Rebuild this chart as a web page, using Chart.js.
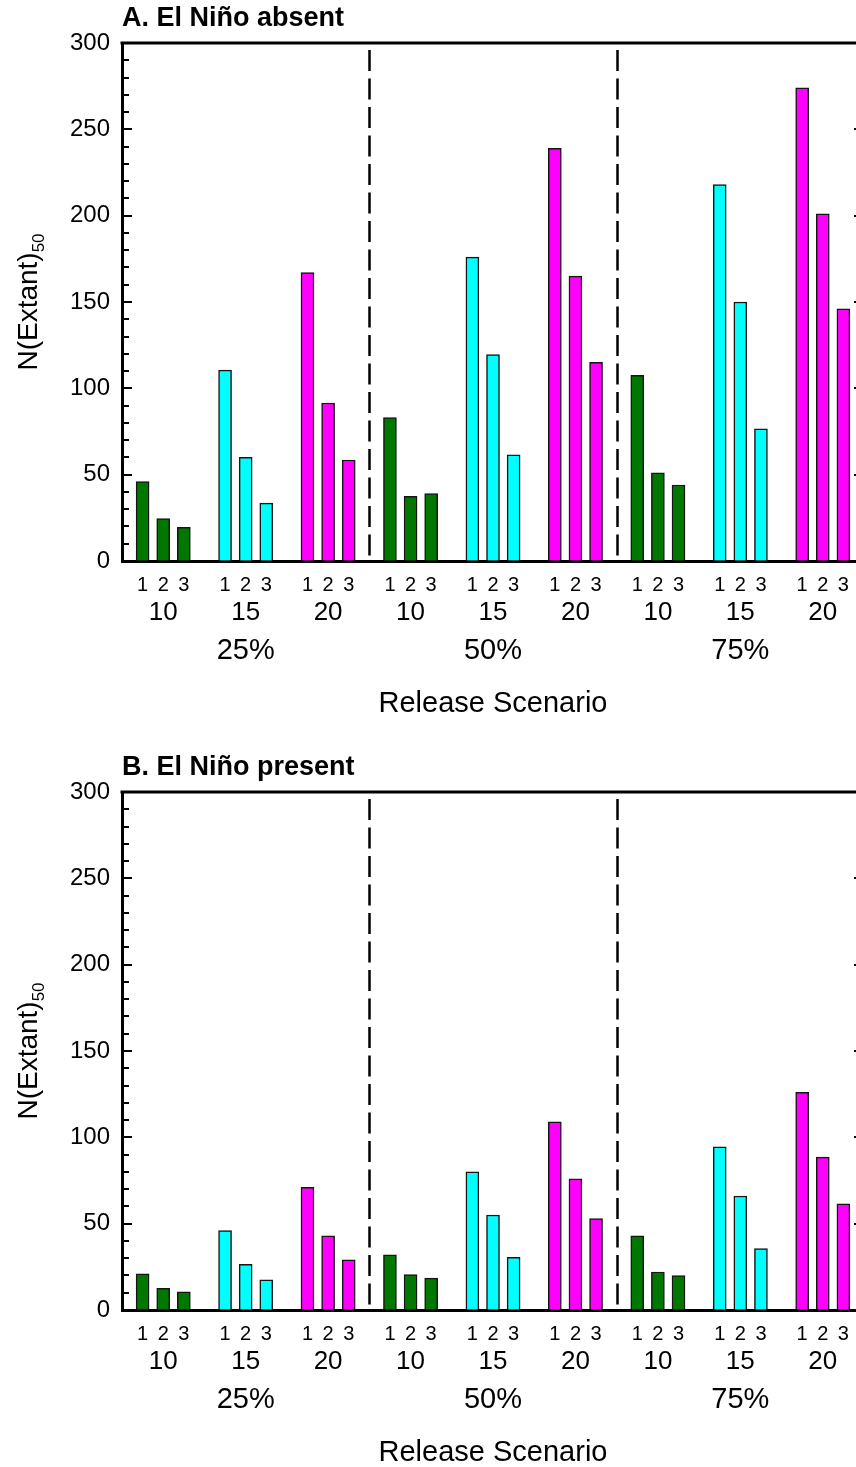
<!DOCTYPE html>
<html>
<head>
<meta charset="utf-8">
<script src="https://cdn.jsdelivr.net/npm/chart.js@4.4.1/dist/chart.umd.min.js"></script>
<style>
html, body { margin: 0; padding: 0; background: #fff; overflow: hidden; }
#wrap { position: relative; width: 856px; height: 1467px; overflow: hidden; background: #fff; }
.panel { position: absolute; left: 0; width: 880px; height: 749px; }
canvas { display: block; }
</style>
</head>
<body>
<div id="wrap">
  <div class="panel" style="top:0"><canvas id="chartA" width="880" height="749"></canvas></div>
  <div class="panel" style="top:749px"><canvas id="chartB" width="880" height="749"></canvas></div>
</div>
<script>
// ---------------- data ----------------
const releases = ['25%', '50%', '75%'];          // release proportion
const groupSizes = ['10', '15', '20'];           // release group size
const scenarios = ['1', '2', '3'];               // scenario within group
const yMajorTicks = [0, 50, 100, 150, 200, 250, 300];
const yMinorStep = 10;

// values ordered: 25%(1,2,3), 50%(1,2,3), 75%(1,2,3)
const absent10  = [46, 24.5, 19.5, 83, 37.5, 39, 107.5, 51, 44];
const absent15  = [110.5, 60, 33.5, 176, 119.5, 61.5, 218, 150, 76.5];
const absent20  = [167, 91.5, 58.5, 239, 165, 115, 274, 201, 146];

const present10 = [21, 12.5, 10.5, 32, 20.5, 18.5, 43, 22, 20];
const present15 = [46, 26.5, 17.5, 80, 55, 30.5, 94.5, 66, 35.5];
const present20 = [71, 43, 29, 109, 76, 53, 126, 88.5, 61.5];

const sizeColors = ['#007800', '#00ffff', '#ff00ff'];
const FONT = "'Liberation Sans', Arial, Helvetica, sans-serif";

// ---------------- layout of slots on a linear axis ----------------
const perGroup = scenarios.length + 1;                 // 3 bars + 1 gap
const perRelease = groupSizes.length * perGroup;       // 12 slots
const xMax = releases.length * perRelease;             // 36
const slot = (r, s, k) => 1 + r * perRelease + s * perGroup + k;

const barTicks = [], groupTicks = [], releaseTicks = [];
releases.forEach((rl, r) => {
  groupSizes.forEach((gs, s) => {
    scenarios.forEach((sc, k) => barTicks.push({ value: slot(r, s, k), label: sc }));
    groupTicks.push({ value: slot(r, s, 1), label: gs });
  });
  releaseTicks.push({ value: slot(r, 1, 1), label: rl });
});
const dividers = releases.slice(1).map((_, i) => (i + 1) * perRelease);
const lookup = ticks => { const m = {}; ticks.forEach(t => m[t.value] = t.label); return m; };
const barLabel = lookup(barTicks), groupLabel = lookup(groupTicks), releaseLabel = lookup(releaseTicks);

// ---------------- plugin: frame, inward ticks, dashed dividers, y title ----------------
const framePlugin = {
  id: 'frame',
  afterDraw(chart) {
    const { ctx, chartArea: { left, right, top, bottom }, scales: { x, y } } = chart;
    ctx.save();
    ctx.strokeStyle = '#000';
    ctx.lineWidth = 3;
    ctx.beginPath();
    ctx.moveTo(left - 1.5, top); ctx.lineTo(right + 1.5, top);
    ctx.moveTo(right, top); ctx.lineTo(right, bottom);
    ctx.stroke();

    ctx.lineWidth = 2;
    ctx.beginPath();
    y.ticks.forEach(t => {
      if (t.value <= y.min || t.value >= y.max) return;
      const py = Math.round(y.getPixelForValue(t.value));
      const len = yMajorTicks.includes(t.value) ? 10 : 7;
      ctx.moveTo(left, py); ctx.lineTo(left + len, py);
      ctx.moveTo(right, py); ctx.lineTo(right - len, py);
    });
    ctx.stroke();

    ctx.lineWidth = 2.5;
    ctx.setLineDash([21, 7.5]);
    ctx.beginPath();
    dividers.forEach(v => {
      const px = Math.round(x.getPixelForValue(v)) + 0.5;
      ctx.moveTo(px, top + 7); ctx.lineTo(px, bottom);
    });
    ctx.stroke();
    ctx.setLineDash([]);

    // y-axis title with subscript
    const main = 'N(Extant)', sub = '50';
    ctx.fillStyle = '#000';
    ctx.translate(37, (top + bottom) / 2);
    ctx.rotate(-Math.PI / 2);
    ctx.textAlign = 'left';
    ctx.textBaseline = 'alphabetic';
    ctx.font = `28px ${FONT}`;
    const w1 = ctx.measureText(main).width;
    ctx.font = `17px ${FONT}`;
    const w2 = ctx.measureText(sub).width;
    const x0 = -(w1 + w2) / 2;
    ctx.font = `28px ${FONT}`;
    ctx.fillText(main, x0, 0);
    ctx.font = `17px ${FONT}`;
    ctx.fillText(sub, x0 + w1, 7);
    ctx.restore();
  }
};

function makeDatasets(v10, v15, v20) {
  return [v10, v15, v20].map((vals, s) => ({
    label: groupSizes[s],
    xAxisID: 'x',
    yAxisID: 'y',
    backgroundColor: sizeColors[s],
    borderColor: '#151515',
    borderWidth: 1.5,
    borderSkipped: 'start',
    grouped: false,
    barThickness: 13,
    data: vals.map((v, i) => ({ x: slot(Math.floor(i / scenarios.length), s, i % scenarios.length), y: v }))
  }));
}

function setTicks(list) {
  return scale => { scale.ticks = list.map(t => ({ value: t.value })); };
}

function makeChart(id, title, v10, v15, v20) {
  return new Chart(document.getElementById(id), {
    type: 'bar',
    data: { datasets: makeDatasets(v10, v15, v20) },
    plugins: [framePlugin],
    options: {
      responsive: false,
      animation: false,
      devicePixelRatio: 1,
      layout: { padding: { left: 0, right: 16, top: 0, bottom: 0 } },
      plugins: {
        legend: { display: false },
        tooltip: { enabled: false },
        title: {
          display: true, text: title, align: 'start', fullSize: false, color: '#000',
          font: { family: FONT, size: 27, weight: 'bold', lineHeight: 1.2 },
          padding: { top: 2, bottom: 8.6 }
        }
      },
      scales: {
        y: {
          type: 'linear', position: 'left', min: 0, max: 300,
          afterFit: s => { s.width = 122; },
          ticks: {
            stepSize: yMinorStep, maxTicksLimit: 31, autoSkip: false, padding: 12, color: '#000',
            font: { family: FONT, size: 24 },
            callback: v => yMajorTicks.includes(v) ? String(v) : ''
          },
          grid: { display: true, drawOnChartArea: false, drawTicks: false },
          border: { display: true, color: '#000', width: 3 }
        },
        x: {
          type: 'linear', axis: 'x', position: 'bottom', weight: 0, min: 0, max: xMax, offset: false,
          afterBuildTicks: setTicks(barTicks),
          afterFit: s => { s.height = 33; },
          ticks: {
            autoSkip: false, maxRotation: 0, minRotation: 0, padding: 12, color: '#000',
            font: { family: FONT, size: 20 },
            callback: v => barLabel[v] ?? ''
          },
          grid: { display: true, drawOnChartArea: false, drawTicks: false },
          border: { display: true, color: '#000', width: 3 }
        },
        x2: {
          type: 'linear', axis: 'x', position: 'bottom', weight: 1, min: 0, max: xMax, offset: false,
          afterBuildTicks: setTicks(groupTicks),
          afterFit: s => { s.height = 35; },
          ticks: {
            autoSkip: false, maxRotation: 0, minRotation: 0, padding: 3, color: '#000',
            font: { family: FONT, size: 26 },
            callback: v => groupLabel[v] ?? ''
          },
          grid: { display: false, drawTicks: false },
          border: { display: false }
        },
        x3: {
          type: 'linear', axis: 'x', position: 'bottom', weight: 2, min: 0, max: xMax, offset: false,
          afterBuildTicks: setTicks(releaseTicks),
          afterFit: s => { s.height = 120; },
          ticks: {
            autoSkip: false, maxRotation: 0, minRotation: 0, padding: 5, color: '#000',
            font: { family: FONT, size: 29 },
            callback: v => releaseLabel[v] ?? ''
          },
          title: {
            display: true, text: 'Release Scenario', color: '#000',
            font: { family: FONT, size: 29 },
            padding: { top: 0, bottom: 28 }
          },
          grid: { display: false, drawTicks: false },
          border: { display: false }
        }
      }
    }
  });
}

makeChart('chartA', 'A. El Niño absent', absent10, absent15, absent20);
makeChart('chartB', 'B. El Niño present', present10, present15, present20);
</script>
</body>
</html>
